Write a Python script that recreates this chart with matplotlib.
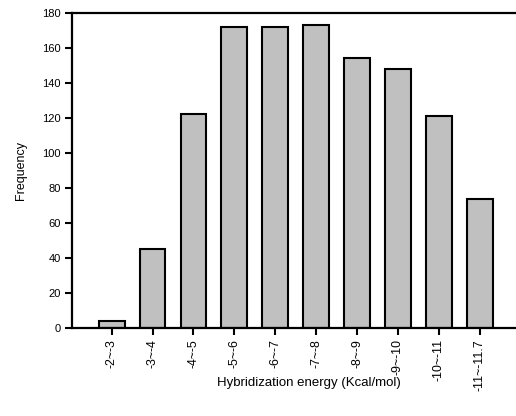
import matplotlib
matplotlib.use("Agg")
import matplotlib.pyplot as plt

plt.rcParams['font.family'] = ['Liberation Sans', 'DejaVu Sans']

# data
categories = ['-2~-3', '-3~-4', '-4~-5', '-5~-6', '-6~-7', '-7~-8',
              '-8~-9', '-9~-10', '-10~-11', '-11~-11.7']
counts = [4, 45, 122, 172, 172, 173, 154, 148, 121, 74]
yticks = [0, 20, 40, 60, 80, 100, 120, 140, 160, 180]

fig = plt.figure(figsize=(5.16, 4.16), dpi=100)
# the original plot runs past the right edge of the picture
ax = fig.add_axes([0.1395, 0.2115, 0.9186, 0.7573])

x = list(range(len(categories)))
ax.bar(x, counts, width=0.63, color='#c0c0c0', edgecolor='black', linewidth=1.5)

ax.set_xlim(-0.97, 10.62)
ax.set_ylim(0, 180)
ax.set_yticks(yticks)
ax.set_xticks(x)
ax.set_xticklabels(categories, rotation=90, fontsize=8.9)
ax.tick_params(axis='y', labelsize=8, direction='out', length=5, width=1.5, pad=3)
ax.tick_params(axis='x', direction='out', length=5, width=1.5, pad=3)

for s in ['left', 'bottom', 'top']:
    ax.spines[s].set_linewidth(1.6)
ax.spines['right'].set_visible(False)

ax.set_ylabel('Frequency', fontsize=9)
ax.yaxis.set_label_coords(-0.095, 0.5)
ax.set_xlabel('Hybridization energy (Kcal/mol)', fontsize=9.5)
ax.xaxis.set_label_coords(0.5, -0.156)

fig.savefig('out.png', dpi=100)
